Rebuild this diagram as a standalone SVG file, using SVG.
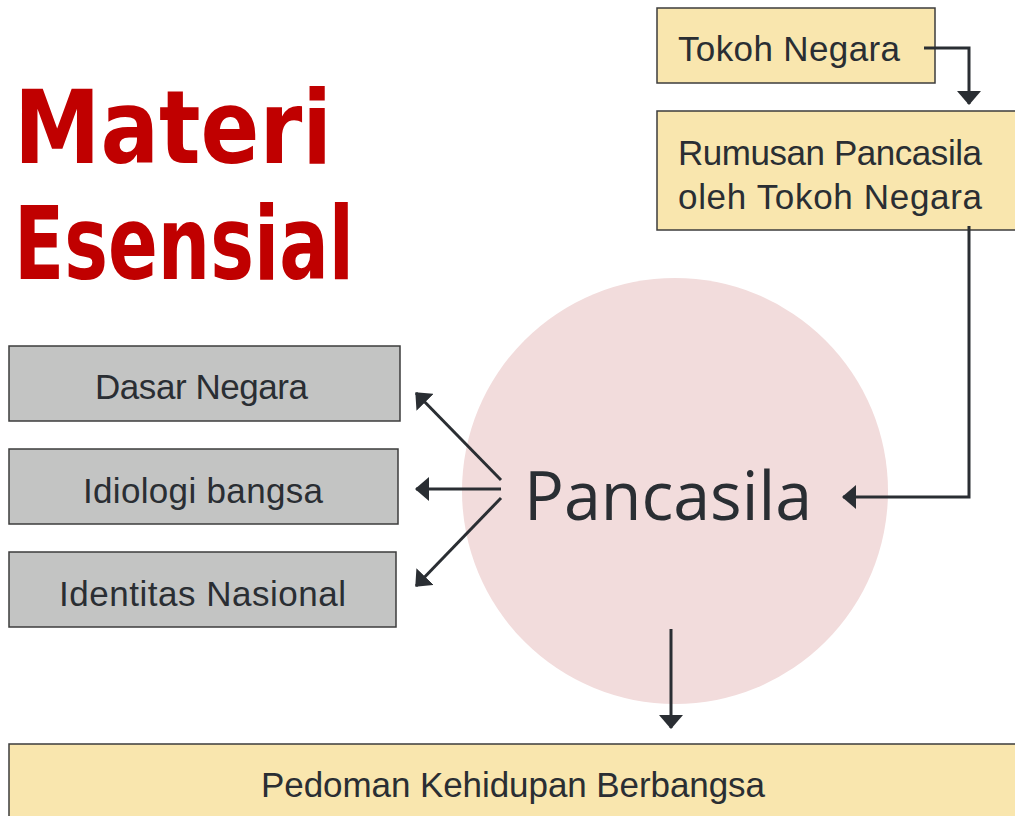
<svg xmlns="http://www.w3.org/2000/svg" width="1015" height="816" viewBox="0 0 1015 816">
<defs>
<style>
.title{font-family:"DejaVu Sans",Verdana,sans-serif;font-weight:bold;font-size:102px;fill:#c00000}
.lbl{font-family:"Liberation Sans",Arial,sans-serif;font-size:35px;fill:#2a2e33}
.yel{fill:#f9e6ae;stroke:#3c3c3c;stroke-width:1.5}
.gry{fill:#c3c4c3;stroke:#3c3c3c;stroke-width:1.5}
.con{fill:none;stroke:#2a2e33;stroke-width:3;marker-end:url(#ah)}
</style>
<marker id="ah" markerUnits="userSpaceOnUse" viewBox="0 0 14 24" markerWidth="14" markerHeight="24" refX="13" refY="12" orient="auto">
<path d="M0,0 L14,12 L0,24 z" fill="#2a2e33"/>
</marker>
</defs>
<rect width="1015" height="816" fill="#ffffff"/>
<g id="title">
<text class="title" x="14" y="163" textLength="318" lengthAdjust="spacingAndGlyphs">Materi</text>
<text class="title" x="14" y="279" textLength="340" lengthAdjust="spacingAndGlyphs">Esensial</text>
</g>
<g id="pancasila">
<circle cx="675" cy="491" r="213" fill="#f2dcdc"/>
<text x="524" y="520" font-family="'Open Sans','Noto Sans',sans-serif" font-size="67" fill="#2a2e33" textLength="288" lengthAdjust="spacingAndGlyphs">Pancasila</text>
</g>
<g id="tokoh-negara">
<rect class="yel" x="657" y="8" width="278" height="75"/>
<text class="lbl" x="678" y="61" textLength="222">Tokoh Negara</text>
</g>
<g id="rumusan">
<rect class="yel" x="657" y="111" width="370" height="119"/>
<text class="lbl" x="678" y="165" textLength="304">Rumusan Pancasila</text>
<text class="lbl" x="678" y="209" textLength="304">oleh Tokoh Negara</text>
</g>
<g id="dasar-negara">
<rect class="gry" x="9" y="346" width="391" height="75"/>
<text class="lbl" x="95" y="399" textLength="213">Dasar Negara</text>
</g>
<g id="idiologi">
<rect class="gry" x="9" y="449" width="389" height="75"/>
<text class="lbl" x="83" y="503" textLength="240">Idiologi bangsa</text>
</g>
<g id="identitas">
<rect class="gry" x="9" y="552" width="387" height="75"/>
<text class="lbl" x="59" y="606" textLength="287">Identitas Nasional</text>
</g>
<g id="pedoman">
<rect class="yel" x="9" y="744" width="1020" height="90"/>
<text class="lbl" x="261" y="797" textLength="504">Pedoman Kehidupan Berbangsa</text>
</g>
<g id="connectors">
<path class="con" d="M924,48 H969 V104"/>
<path class="con" d="M969,226 V497 H843"/>
<path class="con" d="M501,480 L416,393"/>
<path class="con" d="M501,489 L416,489"/>
<path class="con" d="M501,498 L416,586"/>
<path class="con" d="M671,629 V728"/>
</g>
</svg>
